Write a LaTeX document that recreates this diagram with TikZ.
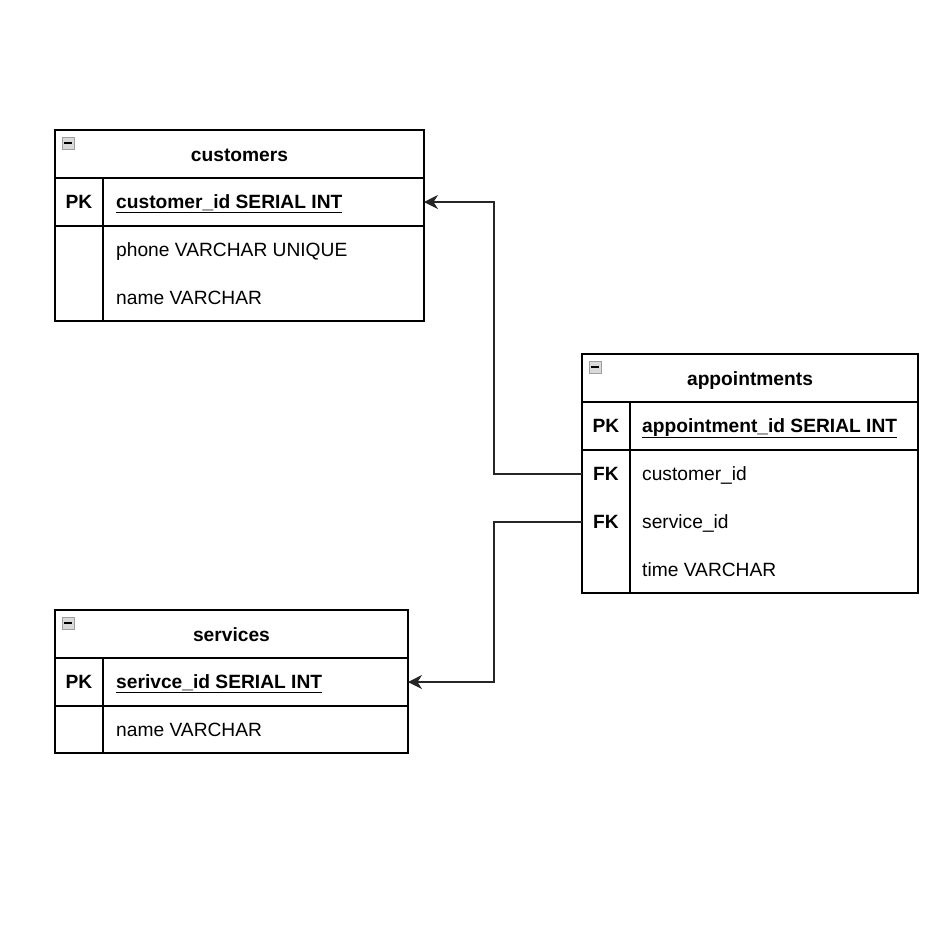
\documentclass[tikz,border=0pt]{standalone}
\usepackage{fontspec}
\setmainfont{Liberation Sans}
\usetikzlibrary{arrows.meta}
\tikzset{
  tbl/.style={draw=black, line width=1.3pt},
  sep/.style={draw=black, line width=1.3pt},
  hdr/.style={font=\fontsize{19.2}{23}\selectfont\bfseries, anchor=base, inner sep=0pt},
  key/.style={font=\fontsize{19.2}{23}\selectfont\bfseries, anchor=base, inner sep=0pt},
  fld/.style={font=\fontsize{19.2}{23}\selectfont, anchor=base west, inner sep=0pt},
  pkfld/.style={font=\fontsize{19.2}{23}\selectfont\bfseries, anchor=base west, inner sep=0pt},
  icon/.style={draw=gray!75, fill=gray!30, line width=1pt},
  rel/.style={draw=black!85, line width=1.3pt, -{Stealth[length=14pt,width=14pt,inset=4.5pt]}},
}
\newcommand{\ulx}[1]{\underline{#1}}
\newcommand{\colicon}[2]{%
  \filldraw[icon] (#1,#2) rectangle ++(12,12);
  \fill[black] (#1+2,#2+5) rectangle ++(8,2.2);
}
\begin{document}
\begin{tikzpicture}[x=1pt,y=-1pt]
\useasboundingbox[fill=white] (0,0) rectangle (949,924);

% customers
\draw[tbl] (55,130) rectangle (424,321);
\draw[sep] (55,178) -- (424,178);
\draw[sep] (55,226) -- (424,226);
\draw[sep] (103,178) -- (103,321);
\colicon{62}{137}
\node[hdr] (cT) at (239.5,161) {customers};
\node[key] (cPK) at (79,208) {PK};
\node[pkfld] (cId) at (116,208) {\ulx{customer\_id SERIAL INT}};
\node[fld] (cPh) at (116,256) {phone VARCHAR UNIQUE};
\node[fld] (cNm) at (116,304) {name VARCHAR};
\coordinate (cIdE) at (424,202);

% appointments
\draw[tbl] (582,354) rectangle (918,593);
\draw[sep] (582,402) -- (918,402);
\draw[sep] (582,450) -- (918,450);
\draw[sep] (630,402) -- (630,593);
\colicon{589}{361}
\node[hdr] (aT) at (750,385) {appointments};
\node[key] (aPK) at (606,432) {PK};
\node[pkfld] (aId) at (642,432) {\ulx{appointment\_id SERIAL INT}};
\node[key] (aFK1) at (606,480) {FK};
\node[fld] (aCid) at (642,480) {customer\_id};
\node[key] (aFK2) at (606,528) {FK};
\node[fld] (aSid) at (642,528) {service\_id};
\node[fld] (aTm) at (642,576) {time VARCHAR};
\coordinate (aCW) at (582,474);
\coordinate (aSW) at (582,522);

% services
\draw[tbl] (55,610) rectangle (408,753);
\draw[sep] (55,658) -- (408,658);
\draw[sep] (55,706) -- (408,706);
\draw[sep] (103,658) -- (103,753);
\colicon{62}{617}
\node[hdr] (sT) at (231.5,641) {services};
\node[key] (sPK) at (79,688) {PK};
\node[pkfld] (sId) at (116,688) {\ulx{serivce\_id SERIAL INT}};
\node[fld] (sNm) at (116,736) {name VARCHAR};
\coordinate (sIdE) at (408,682);

% relations
\draw[rel] (aCW) -- (494,474) -- (494,202) -- (cIdE);
\draw[rel] (aSW) -- (494,522) -- (494,682) -- (sIdE);
\end{tikzpicture}
\end{document}
